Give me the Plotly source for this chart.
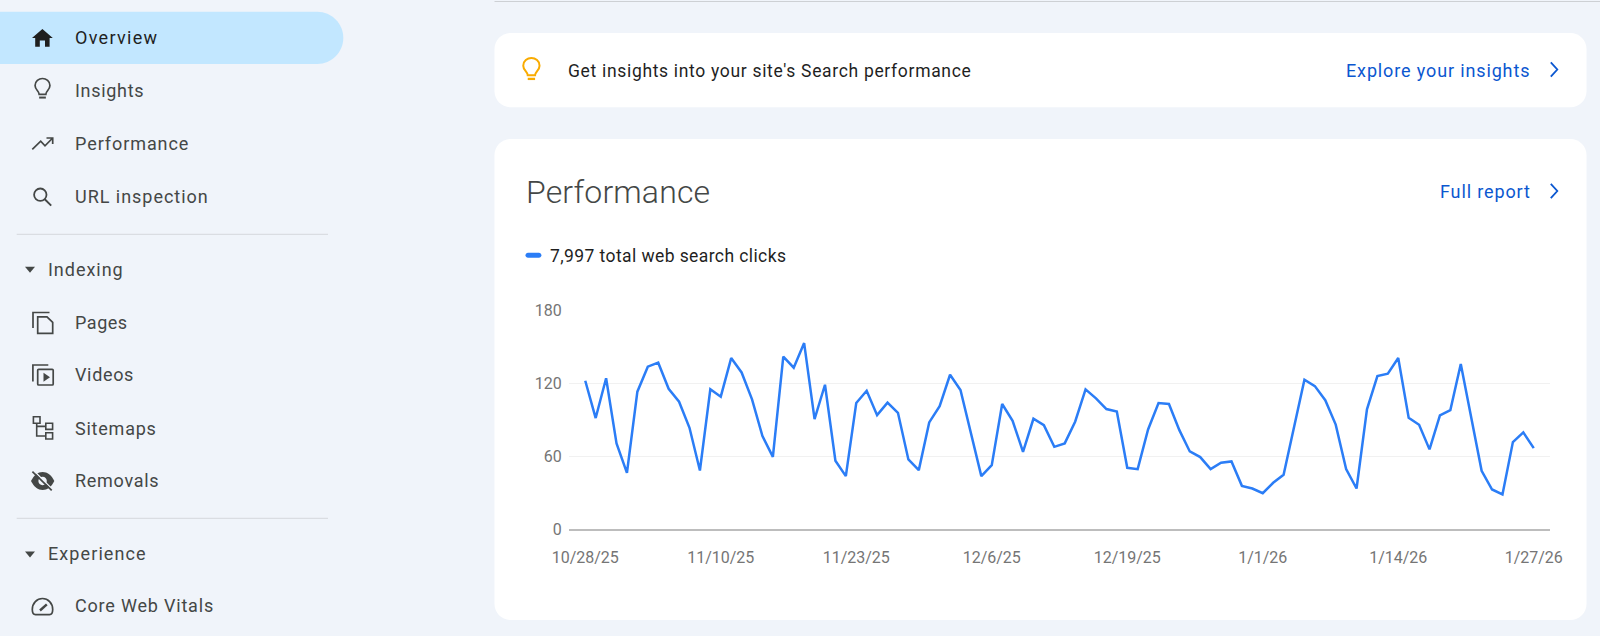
import json
import re
import pandas as pd
import plotly.graph_objects as go

W, H = 1600, 636

clicks = [122, 91.4, 124, 70.6, 46.5, 113, 133.5, 136.8, 115.4, 104.8, 83.4, 48.4, 115, 108.9, 140.6, 128.8,
          106.7, 76.6, 59.6, 141.7, 132.7, 152.9, 90.5, 118.7, 56.4, 43.8, 103.7, 113.8, 93.8, 104, 95.7, 57.4,
          48.7, 87.8, 101.2, 126.9, 114.4, 78.8, 43.8, 52.8, 102.9, 89.2, 63.7, 90.8, 85.6, 67.8, 70.6, 88.4,
          114.9, 107.5, 98.8, 96.8, 50.6, 49.5, 82, 103.7, 102.9, 81.5, 64, 59.4, 49.5, 54.7, 55.8, 35.8,
          33.6, 29.8, 38.3, 44.9, 84, 122.8, 117.6, 106, 86, 49.5, 33.6, 98.5, 125.8, 127.8, 140.6, 91.6,
          85.9, 65.7, 93.6, 97.9, 135.7, 92.5, 48.1, 32.8, 28.7, 71.7, 79.6, 66.7]
start_date = "2025-10-28"
x_ticks = ["2025-10-28", "2025-11-10", "2025-11-23", "2025-12-06", "2025-12-19", "2026-01-01", "2026-01-14", "2026-01-27"]
x_labels = ["10/28/25", "11/10/25", "11/23/25", "12/6/25", "12/19/25", "1/1/26", "1/14/26", "1/27/26"]
y_ticks = [0, 60, 120, 180]
dates = pd.date_range(start_date, periods=len(clicks))

nav_items = [("Overview", 37.7, "#1f1f1f", 83.3), ("Insights", 90.7, "#444746", 69.3),
             ("Performance", 143.7, "#444746", 114.3), ("URL inspection", 196.7, "#444746", 133.7),
             ("Pages", 322.3, "#444746", 52.7), ("Videos", 374.7, "#444746", 59),
             ("Sitemaps", 428, "#444746", 81.7), ("Removals", 480.7, "#444746", 84.3),
             ("Core Web Vitals", 605.7, "#444746", 139)]
nav_sections = [("Indexing", 269.5, 75.7), ("Experience", 553.5, 98.7)]

BG, INK, BLUE, LINK = "#F0F4FA", "#444746", "#2B7DF6", "#0B57D0"
FONT = "Roboto"


def conv(path):
    n = [0]
    def rep(m):
        v = float(m.group(0))
        n[0] += 1
        return f"{v / W:.6f}" if n[0] % 2 else f"{1 - v / H:.6f}"
    return re.sub(r"-?\d+\.?\d*", rep, path)


def shape(path, fill=None, line=None, width=1.8, layer="below"):
    return dict(type="path", xref="paper", yref="paper", path=conv(path), layer=layer,
                fillcolor=fill if fill else "rgba(0,0,0,0)",
                line=dict(color=line if line else "rgba(0,0,0,0)", width=width if line else 0))


def rrect(x0, y0, x1, y1, r):
    k = r * 0.45
    return (f"M {x0 + r} {y0} L {x1 - r} {y0} C {x1 - k} {y0} {x1} {y0 + k} {x1} {y0 + r} "
            f"L {x1} {y1 - r} C {x1} {y1 - k} {x1 - k} {y1} {x1 - r} {y1} "
            f"L {x0 + r} {y1} C {x0 + k} {y1} {x0} {y1 - k} {x0} {y1 - r} "
            f"L {x0} {y0 + r} C {x0} {y0 + k} {x0 + k} {y0} {x0 + r} {y0} Z")


def circle(cx, cy, r):
    k = r * 0.5523
    return (f"M {cx - r} {cy} C {cx - r} {cy - k} {cx - k} {cy - r} {cx} {cy - r} "
            f"C {cx + k} {cy - r} {cx + r} {cy - k} {cx + r} {cy} "
            f"C {cx + r} {cy + k} {cx + k} {cy + r} {cx} {cy + r} "
            f"C {cx - k} {cy + r} {cx - r} {cy + k} {cx - r} {cy} Z")


def bulb(cx, top, s, color, w):
    return [
        shape(f"M {cx - 3.6 * s} {top + 17 * s} C {cx - 3.6 * s} {top + 13.5 * s} {cx - 8 * s} {top + 12 * s} {cx - 8 * s} {top + 7.5 * s} "
              f"C {cx - 8 * s} {top + 3 * s} {cx - 4 * s} {top} {cx} {top} "
              f"C {cx + 4 * s} {top} {cx + 8 * s} {top + 3 * s} {cx + 8 * s} {top + 7.5 * s} "
              f"C {cx + 8 * s} {top + 12 * s} {cx + 3.6 * s} {top + 13.5 * s} {cx + 3.6 * s} {top + 17 * s} Z", line=color, width=w),
        shape(f"M {cx - 3.6 * s} {top + 20.5 * s} L {cx + 3.6 * s} {top + 20.5 * s}", line=color, width=w + 0.3),
    ]


shapes = [
    shape(rrect(-30, 11.7, 343.3, 64, 26), fill="#C2E7FF"),
    shape("M 494.5 1.5 L 1600 1.5", line="#CDD0D4", width=1.2),
    shape(rrect(494.5, 33, 1586.5, 107.3, 16), fill="#FFFFFF"),
    shape(rrect(494.5, 139, 1586.5, 620, 16), fill="#FFFFFF"),
    shape("M 16.7 234.3 L 328 234.3", line="#D5D8DC", width=1),
    shape("M 16.7 518.3 L 328 518.3", line="#D5D8DC", width=1),
    # home
    shape("M 42.4 29 L 52.8 38 L 49.6 38 L 49.6 46.7 L 45 46.7 L 45 40.5 L 39.8 40.5 L 39.8 46.7 L 35.2 46.7 L 35.2 38 L 32 38 Z", fill="#1f1f1f"),
    # trending
    shape("M 32.3 149.3 L 40.7 141.2 L 45 145.8 L 52.7 138 M 46.5 138 L 52.7 138 L 52.7 144", line=INK, width=1.7),
    # search
    shape(circle(40.3, 194.7, 6.2), line=INK, width=1.8),
    shape("M 44.8 199.3 L 51.2 205.6", line=INK, width=1.9),
    # pages
    shape("M 49.5 312.5 L 33 312.5 L 33 328", line=INK, width=1.7),
    shape("M 37.7 316.8 L 47 316.8 L 52.7 322.3 L 52.7 333.3 L 37.7 333.3 Z", line=INK, width=1.7),
    # videos
    shape("M 48.3 365 L 32.9 365 L 32.9 381.5", line=INK, width=1.7),
    shape(rrect(37.7, 369.3, 53.2, 385, 1), line=INK, width=1.7),
    shape("M 43.5 372.8 L 50 377.2 L 43.5 381.8 Z", fill=INK),
    # sitemaps
    shape("M 33.4 416.8 L 40 416.8 L 40 423.3 L 33.4 423.3 Z", line=INK, width=1.6),
    shape("M 45.8 423.3 L 52.6 423.3 L 52.6 429.4 L 45.8 429.4 Z", line=INK, width=1.6),
    shape("M 45.8 432.8 L 52.6 432.8 L 52.6 439 L 45.8 439 Z", line=INK, width=1.6),
    shape("M 36.7 423.3 L 36.7 436 L 45.8 436 M 36.7 426.4 L 45.8 426.4", line=INK, width=1.6),
    # removals
    shape("M 31 481 C 34 475 38 472 42.6 472 C 47.2 472 51.5 475 54.3 481 C 51.5 487 47.2 490 42.6 490 C 38 490 34 487 31 481 Z", fill=INK),
    shape(circle(42.6, 481, 4.2), fill=BG),
    shape("M 33.6 470.6 L 52.8 489.8", line=BG, width=1.4),
    shape("M 32.4 471.7 L 51.7 490.3", line=INK, width=1.7),
    # gauge
    shape("M 35.5 614.6 L 49.5 614.6 C 51.5 614.6 52.7 612.6 52.7 609.5 C 52.7 603 48 598.5 42.5 598.5 C 37 598.5 32.3 603 32.3 609.5 C 32.3 612.6 33.5 614.6 35.5 614.6 Z", line=INK, width=1.7),
    shape("M 40 610.5 L 46.8 604.3", line=INK, width=2.4),
    # carets
    shape("M 25 266.7 L 35 266.7 L 30 272.7 Z", fill=INK),
    shape("M 25 551.5 L 35 551.5 L 30 557.5 Z", fill=INK),
    # chevrons
    shape("M 1550.8 62.3 L 1557.3 69.5 L 1550.8 76.7", line=LINK, width=1.8),
    shape("M 1550.8 183.8 L 1557.3 191 L 1550.8 198.2", line=LINK, width=1.8),
    # legend key
    shape(rrect(525.5, 252.8, 541.4, 257.8, 2.5), fill=BLUE),
]
shapes += [s for s in bulb(42.5, 78.5, 0.93, INK, 1.7)]
shapes += bulb(531.4, 58, 1.02, "#F9AB00", 2.0)


def label(text, px, py, size, color, anchor="left", weight=400):
    return dict(text=text, x=px / W, y=1 - py / H, xref="paper", yref="paper", showarrow=False,
                xanchor=anchor, yanchor="middle", align=anchor, borderpad=0,
                font=dict(family=FONT, size=size, color=color, weight=weight))


annotations = [label(t, 73.5, y, 18, c) for t, y, c, _ in nav_items]
annotations += [label(t, 47.3, y, 18, INK) for t, y, _ in nav_sections]
annotations += [
    label("Get insights into your site's Search performance", 566.6, 70.7, 17.5, "#1f1f1f"),
    label("Explore your insights", 1345.4, 70.7, 18, LINK),
    label("Performance", 525.4, 191.7, 32, "#444746", weight=300),
    label("Full report", 1439, 191.7, 18, LINK),
    label("7,997 total web search clicks", 549, 255.6, 17.5, "#1f1f1f"),
]
text_widths = [w for *_, w in nav_items] + [w for *_, w in nav_sections] + [403.5, 184.3, 184.3, 90.7, 236.4]

fit_text = f"""
document.body.style.margin='0';
document.documentElement.style.overflow='hidden';
var widths = {json.dumps(text_widths)};
document.querySelectorAll('.annotation-text').forEach(function (t, i) {{
  var gap = (widths[i] - t.getComputedTextLength()) / t.textContent.length;
  t.style.letterSpacing = gap.toFixed(3) + 'px';
}});
"""

pad_days = 1.56
fig = go.Figure(go.Scatter(x=dates, y=clicks, mode="lines", line=dict(color=BLUE, width=2.5, shape="linear"),
                           showlegend=False, hoverinfo="skip"))
fig.update_layout(
    width=W, height=H, margin=dict(l=0, r=0, t=0, b=0, autoexpand=False), paper_bgcolor=BG, plot_bgcolor="rgba(0,0,0,0)",
    shapes=shapes, annotations=annotations, showlegend=False,
    xaxis=dict(domain=[569 / W, 1550 / W], type="date", automargin=False,
               range=[dates[0] - pd.Timedelta(days=pad_days), dates[-1] + pd.Timedelta(days=pad_days)],
               tickmode="array", tickvals=x_ticks, ticktext=x_labels, showgrid=False, zeroline=False,
               showline=False, ticks="outside", ticklen=13, tickcolor="rgba(0,0,0,0)",
               tickfont=dict(family=FONT, size=16, color="#757575"), tickangle=0),
    yaxis=dict(domain=[1 - 529.5 / H, 1 - 310 / H], range=[0, 180], tickmode="array", tickvals=y_ticks, automargin=False,
               showgrid=True, gridcolor="#F1F1F1", gridwidth=1, zeroline=True, zerolinecolor="#BDBDBD", zerolinewidth=2,
               showline=False, ticks="outside", ticklen=3, tickcolor="rgba(0,0,0,0)",
               tickfont=dict(family=FONT, size=16, color="#757575")),
)
fig.write_html("out.html", config=dict(displayModeBar=False), post_script=fit_text)
